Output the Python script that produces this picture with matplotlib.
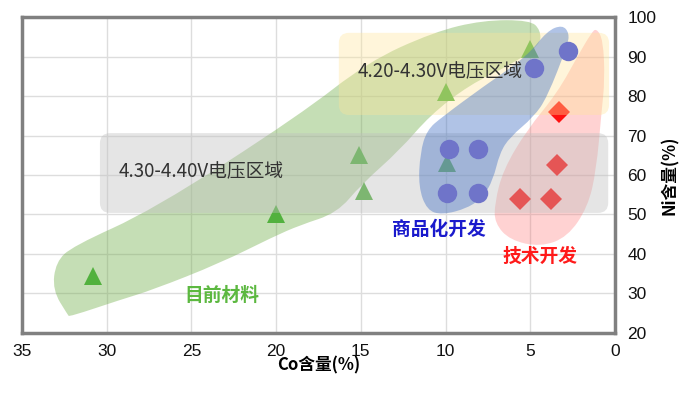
import numpy as np
import matplotlib
matplotlib.use('Agg')
import matplotlib.pyplot as plt
from matplotlib.path import Path
from matplotlib.patches import PathPatch, FancyBboxPatch

plt.rcParams['font.family'] = ['Noto Sans CJK SC', 'DejaVu Sans']

# marker data (Co %, Ni %)
cur_co = [30.8, 20.0, 15.1, 14.8, 10.0, 9.9, 5.0]
cur_ni = [34.5, 50.0, 65.0, 56.0, 81.0, 63.0, 92.0]
com_co = [2.8, 4.8, 9.8, 8.1, 9.9, 8.1]
com_ni = [91.5, 87.0, 66.5, 66.5, 55.5, 55.5]
tech_co = [3.3, 3.4, 5.6, 3.8]
tech_ni = [76.0, 62.5, 54.0, 54.0]

# outlines of the shaded groups
green_x = [32.3, 33.2, 33.0, 32.0, 27.3, 18.6, 14.6, 10.7, 7.8, 5.0, 4.4, 4.4,
           6.2, 8.6, 10.9, 12.7, 15.0, 16.4, 18.6, 20.2, 23.3, 27.3, 29.2, 32.2]
green_y = [24.6, 30.9, 38.0, 42.0, 51.1, 75.2, 88.6, 96.2, 99.2, 99.2, 96.7, 92.9,
           87.8, 82.8, 75.2, 66.3, 57.5, 50.4, 47.3, 44.3, 37.7, 30.9, 28.4, 24.1]
blue_x = [3.1, 2.7, 2.8, 4.0, 4.8, 6.2, 6.8, 7.2, 7.8, 8.7, 10.2, 11.1, 11.6, 11.5,
          11.1, 10.2, 7.8, 5.2, 4.0]
blue_y = [98.0, 95.9, 92.9, 79.7, 74.7, 69.6, 65.6, 58.7, 54.4, 51.6, 49.9, 51.1,
          57.0, 65.6, 71.4, 74.7, 82.3, 90.0, 96.5]
red_x = [1.1, 0.7, 0.6, 0.8, 1.1, 1.6, 2.8, 4.4, 6.2, 7.1, 7.1, 6.6, 5.2, 3.4, 2.1, 1.4]
red_y = [97.2, 94.2, 84.1, 75.7, 61.3, 51.9, 44.3, 41.8, 43.5, 47.8, 52.9, 61.3,
         71.4, 80.8, 90.9, 95.9]

# voltage windows (x0, x1, y0, y1)
win_low = (0.4, 30.4, 50.4, 70.6)
win_high = (0.35, 16.3, 75.2, 96.0)


def blob(ax, xs, ys, **kw):
    pts = np.column_stack([xs, ys])
    mids = (pts + np.roll(pts, -1, axis=0)) / 2
    verts = [mids[-1]]
    codes = [Path.MOVETO]
    for i in range(len(pts)):
        verts += [pts[i], mids[i]]
        codes += [Path.CURVE3, Path.CURVE3]
    verts.append(mids[-1])
    codes.append(Path.CLOSEPOLY)
    ax.add_patch(PathPatch(Path(verts, codes), lw=0, **kw))


def window(ax, box, **kw):
    x0, x1, y0, y1 = box
    p = FancyBboxPatch((x0, y0), x1 - x0, y1 - y0,
                       boxstyle='round,pad=0,rounding_size=0.6',
                       mutation_aspect=4.3, lw=0, **kw)
    ax.add_patch(p)


fig = plt.figure(figsize=(6.92, 3.93), dpi=100)
ax = fig.add_axes([0.0318, 0.1527, 0.8569, 0.804])

blob(ax, green_x, green_y, facecolor='#70ad47', alpha=0.4, zorder=1)
blob(ax, red_x, red_y, facecolor='#ff6060', alpha=0.28, zorder=1.2)
ax.plot(cur_co, cur_ni, '^', color='#52b13e', markersize=13, mew=0, zorder=2)
ax.plot(tech_co, tech_ni, 'D', color='#ff1010', markersize=11, mew=0, zorder=2)
window(ax, win_low, facecolor='#bfbfbf', alpha=0.4, zorder=3)
window(ax, win_high, facecolor='#ffe699', alpha=0.36, zorder=3)
blob(ax, blue_x, blue_y, facecolor='#4472c4', alpha=0.42, zorder=4)
ax.plot(com_co, com_ni, 'o', color='#6f74c9', markersize=14, mew=0, zorder=5)

ax.text(24.4, 60.8, '4.30-4.40V电压区域', fontsize=13.5, color='#333333',
        ha='center', va='center', zorder=6)
ax.text(10.3, 86.1, '4.20-4.30V电压区域', fontsize=13.5, color='#333333',
        ha='center', va='center', zorder=6)
ax.text(10.4, 46.3, '商品化开发', fontsize=13.5, color='#1a1acc', fontweight='bold',
        ha='center', va='center', zorder=6)
ax.text(4.4, 39.5, '技术开发', fontsize=13.5, color='#ff1a1a', fontweight='bold',
        ha='center', va='center', zorder=6)
ax.text(23.2, 29.6, '目前材料', fontsize=13.5, color='#5cb840', fontweight='bold',
        ha='center', va='center', zorder=6)

ax.set_xlim(35, 0)
ax.set_ylim(20, 100)
ax.set_xticks(np.arange(35, -1, -5))
ax.set_yticks(np.arange(20, 101, 10))
ax.yaxis.tick_right()
ax.yaxis.set_label_position('right')
ax.tick_params(axis='both', length=0, labelsize=12.5, colors='#111111')
ax.tick_params(axis='x', pad=8)
ax.tick_params(axis='y', pad=9)
for lab in ax.get_xticklabels() + ax.get_yticklabels():
    lab.set_fontfamily('Liberation Sans')
ax.grid(True, color='#dddddd', lw=1)
ax.set_axisbelow(True)
for s in ax.spines.values():
    s.set_color('#808080')
    s.set_linewidth(2.5)

ax.set_xlabel('Co含量(%)', fontsize=12, fontweight='bold', labelpad=-2)
ax.set_ylabel('Ni含量(%)', fontsize=12, fontweight='bold', labelpad=3)

fig.savefig('out.png', dpi=100)
